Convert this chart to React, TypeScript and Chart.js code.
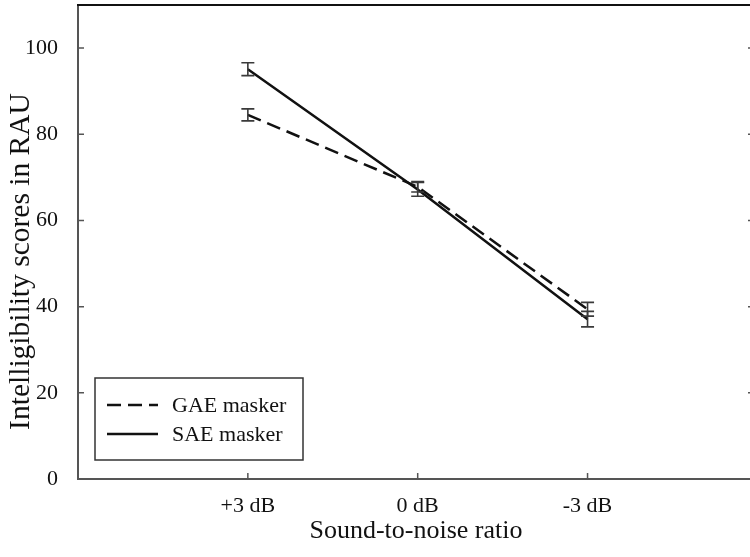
import React, { useEffect, useRef } from "react";
import { Chart, registerables } from "chart.js";

Chart.register(...registerables);

const categories = ["+3 dB", "0 dB", "-3 dB"];
const gaeValues = [84.5, 67.8, 39.4];
const gaeErrors = [1.4, 1.2, 1.6];
const saeValues = [95.1, 67.2, 37.1];
const saeErrors = [1.5, 1.6, 1.8];
const yTicks = [0, 20, 40, 60, 80, 100];
const seriesNames = ["GAE masker", "SAE masker"];
const yTitle = "Intelligibility scores in RAU";
const xTitle = "Sound-to-noise ratio";

const FONT = "'Liberation Serif', 'Times New Roman', serif";

const errorBarPlugin = {
  id: "errorBars",
  afterDatasetsDraw(chart: any) {
    const ctx = chart.ctx;
    const xs = chart.scales.x;
    const ys = chart.scales.y;
    ctx.save();
    ctx.strokeStyle = "#3a3a3a";
    ctx.lineWidth = 1.6;
    ctx.setLineDash([]);
    chart.data.datasets.forEach((ds: any) => {
      ds.data.forEach((p: any, i: number) => {
        const e = ds.errors[i];
        const x = xs.getPixelForValue(p.x);
        const yTop = ys.getPixelForValue(p.y + e);
        const yBot = ys.getPixelForValue(p.y - e);
        ctx.beginPath();
        ctx.moveTo(x, yTop);
        ctx.lineTo(x, yBot);
        ctx.moveTo(x - 6.5, yTop);
        ctx.lineTo(x + 6.5, yTop);
        ctx.moveTo(x - 6.5, yBot);
        ctx.lineTo(x + 6.5, yBot);
        ctx.stroke();
      });
    });
    ctx.restore();
  },
};

const framePlugin = {
  id: "frame",
  afterDraw(chart: any) {
    const ctx = chart.ctx;
    const { left, right, top, bottom } = chart.chartArea;
    const xs = chart.scales.x;
    const ys = chart.scales.y;
    ctx.save();
    // top border
    ctx.strokeStyle = "#111";
    ctx.lineWidth = 2;
    ctx.beginPath();
    ctx.moveTo(left - 1, top);
    ctx.lineTo(right + 1, top);
    ctx.stroke();
    // right axis
    ctx.strokeStyle = "#555";
    ctx.beginPath();
    ctx.moveTo(right, top);
    ctx.lineTo(right, bottom);
    ctx.stroke();
    // inward ticks
    ctx.lineWidth = 1.5;
    ctx.beginPath();
    yTicks.forEach((v) => {
      if (v === 0) return;
      const y = ys.getPixelForValue(v);
      ctx.moveTo(left, y);
      ctx.lineTo(left + 6, y);
      ctx.moveTo(right - 6, y);
      ctx.lineTo(right, y);
    });
    categories.forEach((_, i) => {
      const x = xs.getPixelForValue(i + 1);
      ctx.moveTo(x, bottom);
      ctx.lineTo(x, bottom - 6);
    });
    ctx.stroke();

    // y title
    ctx.fillStyle = "#111";
    ctx.font = `29.5px ${FONT}`;
    ctx.textAlign = "center";
    ctx.textBaseline = "middle";
    ctx.translate(21.5, 261.5);
    ctx.rotate(-Math.PI / 2);
    ctx.fillText(yTitle, 0, 0);
    ctx.restore();

    // legend
    ctx.save();
    const bx = left + 17;
    const by = bottom - 101;
    const bw = 208;
    const bh = 82;
    ctx.strokeStyle = "#333";
    ctx.lineWidth = 1.5;
    ctx.strokeRect(bx, by, bw, bh);
    ctx.font = `22px ${FONT}`;
    ctx.fillStyle = "#111";
    ctx.textAlign = "left";
    ctx.textBaseline = "middle";
    const rows = [by + 27, by + 56];
    chart.data.datasets.forEach((ds: any, i: number) => {
      ctx.strokeStyle = "#111";
      ctx.lineWidth = 2.5;
      ctx.setLineDash(ds.borderDash || []);
      ctx.beginPath();
      ctx.moveTo(bx + 12, rows[i]);
      ctx.lineTo(bx + 63, rows[i]);
      ctx.stroke();
      ctx.setLineDash([]);
      ctx.fillText(seriesNames[i], bx + 77, rows[i] + 1);
    });
    ctx.restore();
  },
};

export default function App() {
  const ref = useRef<HTMLCanvasElement | null>(null);

  useEffect(() => {
    if (!ref.current) return;
    const chart = new Chart(ref.current, {
      type: "line",
      data: {
        datasets: [
          {
            label: seriesNames[0],
            data: categories.map((_, i) => ({ x: i + 1, y: gaeValues[i] })),
            errors: gaeErrors,
            borderColor: "#111",
            borderWidth: 2.5,
            borderDash: [14, 7],
            pointRadius: 0,
            fill: false,
            tension: 0,
          } as any,
          {
            label: seriesNames[1],
            data: categories.map((_, i) => ({ x: i + 1, y: saeValues[i] })),
            errors: saeErrors,
            borderColor: "#111",
            borderWidth: 2.5,
            pointRadius: 0,
            fill: false,
            tension: 0,
          } as any,
        ],
      },
      options: {
        animation: false,
        responsive: false,
        devicePixelRatio: 1,
        layout: { padding: { top: 5, right: 16, bottom: 0, left: 0 } },
        plugins: {
          legend: { display: false },
          tooltip: { enabled: false },
        },
        scales: {
          x: {
            type: "linear",
            min: 0,
            max: 3.98,
            grid: { display: false },
            border: { display: true, color: "#555", width: 2 },
            afterBuildTicks: (axis: any) => {
              axis.ticks = categories.map((_, i) => ({ value: i + 1 }));
            },
            afterFit: (axis: any) => {
              axis.height = 78;
              axis.paddingLeft = 0;
              axis.paddingRight = 0;
            },
            ticks: {
              autoSkip: false,
              maxRotation: 0,
              padding: 6,
              color: "#111",
              font: { family: FONT, size: 22 },
              callback: (v: any) => categories[Number(v) - 1] ?? "",
            },
            title: {
              display: true,
              text: xTitle,
              color: "#111",
              font: { family: FONT, size: 26 },
              padding: { top: 0, bottom: 10 },
            },
          },
          y: {
            type: "linear",
            min: 0,
            max: 110,
            grid: { display: false },
            border: { display: true, color: "#555", width: 2 },
            afterBuildTicks: (axis: any) => {
              axis.ticks = yTicks.map((v) => ({ value: v }));
            },
            afterFit: (axis: any) => {
              axis.width = 78;
              axis.paddingTop = 0;
              axis.paddingBottom = 0;
            },
            ticks: {
              padding: 12,
              color: "#111",
              font: { family: FONT, size: 22 },
            },
          },
        },
      },
      plugins: [errorBarPlugin, framePlugin],
    } as any);
    return () => chart.destroy();
  }, []);

  return (
    <div
      style={{
        position: "absolute",
        left: 0,
        top: 0,
        width: 750,
        height: 557,
        overflow: "hidden",
        background: "#fff",
      }}
    >
      <canvas ref={ref} width={770} height={557} style={{ display: "block" }} />
    </div>
  );
}
